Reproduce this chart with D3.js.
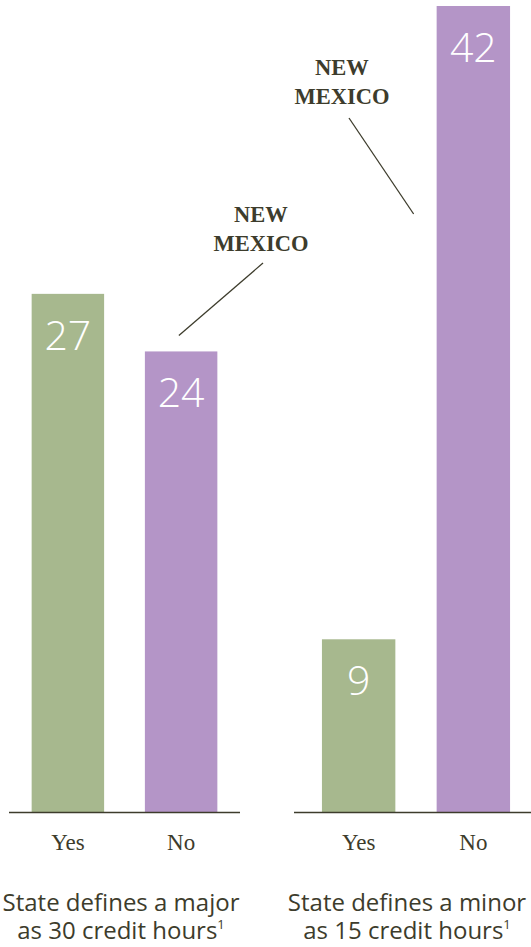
<!DOCTYPE html>
<html>
<head>
<meta charset="utf-8">
<script src="https://cdn.jsdelivr.net/npm/d3@7/dist/d3.min.js"></script>
<style>
  html, body { margin: 0; padding: 0; background: #fff; }
  svg { display: block; }
</style>
</head>
<body>
<svg id="chart" width="531" height="947"></svg>
<script>
// ---- data ----
const categories = ["Yes", "No"];
const majorValues = [27, 24];
const minorValues = [9, 42];
const panelTitles = [
  ["State defines a major", "as 30 credit hours"],
  ["State defines a minor", "as 15 credit hours"]
];
const annotationText = ["NEW", "MEXICO"];

// ---- styles ----
const GREEN = "#a7b88e";
const PURPLE = "#b495c7";
const INK = "#3d3c2c";

const svg = d3.select("#chart");
const baseY = 812;

const y = d3.scaleLinear().domain([0, 42]).range([baseY, 6]);
const color = d3.scaleOrdinal().domain(categories).range([GREEN, PURPLE]);

const panels = [
  { values: majorValues, range: [9, 240], axis: [9, 240], titleX: 121, title: panelTitles[0] },
  { values: minorValues, range: [299, 533], axis: [294, 531], titleX: 407, title: panelTitles[1] }
];

panels.forEach((p) => {
  const x = d3.scaleBand().domain(categories).range(p.range)
    .paddingInner(0.36).paddingOuter(0.2);
  p.x = x;
  const g = svg.append("g");
  const data = categories.map((c, i) => ({ c, v: p.values[i] }));

  g.selectAll("rect").data(data).join("rect")
    .attr("x", d => x(d.c))
    .attr("y", d => y(d.v))
    .attr("width", x.bandwidth())
    .attr("height", d => y(0) - y(d.v))
    .attr("fill", d => color(d.c));

  g.selectAll("text.val").data(data).join("text")
    .attr("class", "val")
    .attr("x", d => x(d.c) + x.bandwidth() / 2)
    .attr("y", d => y(d.v) + 56)
    .attr("text-anchor", "middle")
    .attr("fill", "#fff")
    .style("font-family", "'Open Sans', sans-serif")
    .style("font-weight", 300)
    .style("font-size", "41px")
    .text(d => d.v);

  // baseline
  g.append("line")
    .attr("x1", p.axis[0]).attr("x2", p.axis[1])
    .attr("y1", y(0) + 0.5).attr("y2", y(0) + 0.5)
    .attr("stroke", INK).attr("stroke-width", 1.6);

  // category labels
  g.selectAll("text.cat").data(categories).join("text")
    .attr("class", "cat")
    .attr("x", c => x(c) + x.bandwidth() / 2)
    .attr("y", 850)
    .attr("text-anchor", "middle")
    .attr("fill", INK)
    .style("font-family", "'Liberation Serif', 'Times New Roman', serif")
    .style("font-size", "23px")
    .text(c => c);

  // panel title
  const t = g.append("text")
    .attr("text-anchor", "middle")
    .attr("fill", INK)
    .style("font-family", "'Open Sans', sans-serif")
    .style("font-size", "24px");
  t.append("tspan").attr("x", p.titleX).attr("y", 911).text(p.title[0]);
  t.append("tspan").attr("x", p.titleX).attr("y", 939).text(p.title[1]);
  t.append("tspan").attr("dy", -10).style("font-size", "13px").text("1");
});

// ---- annotations ----
function annotate(textX, textY, x1, y1, x2, y2) {
  const g = svg.append("g");
  const t = g.append("text")
    .attr("text-anchor", "middle")
    .attr("fill", INK)
    .style("font-family", "'Liberation Serif', 'Times New Roman', serif")
    .style("font-weight", "bold")
    .style("font-size", "22.5px");
  annotationText.forEach((s, i) => {
    t.append("tspan").attr("x", textX).attr("y", textY + i * 29).text(s);
  });
  g.append("line")
    .attr("x1", x1).attr("y1", y1).attr("x2", x2).attr("y2", y2)
    .attr("stroke", INK).attr("stroke-width", 1.3);
}

const xl = panels[0].x, xr = panels[1].x;
// left: points to the "No" bar of the major panel
annotate(261, 222,
  xl("No") + 34, y(majorValues[1]) - 16,
  263, 263);
// right: points to the "No" bar of the minor panel
annotate(342, 75,
  349, 118,
  xr("No") - 23, y(minorValues[1]) + 208);
</script>
</body>
</html>
